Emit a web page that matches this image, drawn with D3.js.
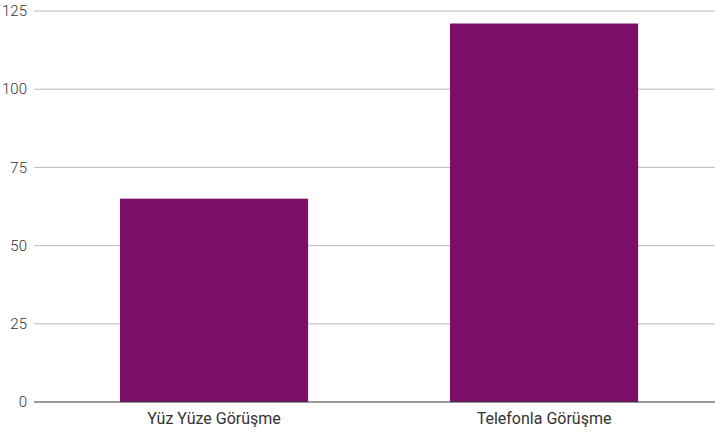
<!DOCTYPE html>
<html><head><meta charset="utf-8">
<script src="https://cdn.jsdelivr.net/npm/d3@7"></script>
<style>body{margin:0;background:#fff}svg{display:block}</style>
</head><body><svg id="c" width="715" height="432"></svg>
<script>
const categories = ["Yüz Yüze Görüşme", "Telefonla Görüşme"];
const values = [65, 121];
const yTicks = [0, 25, 50, 75, 100, 125];

const svg = d3.select("#c");
const x = d3.scaleBand().domain(categories).range([34, 715]).paddingInner(0.43).paddingOuter(0.2468).align(0.528);
const y = d3.scaleLinear().domain([0, 125]).range([402, 11]);

svg.append("g").selectAll("line").data(yTicks.filter(d => d !== 0)).join("line")
  .attr("x1", 34).attr("x2", 715)
  .attr("y1", d => y(d)).attr("y2", d => y(d))
  .attr("stroke", "#bbbbbb").attr("stroke-width", 1);

svg.append("g").selectAll("rect").data(values).join("rect")
  .attr("x", (d, i) => x(categories[i]))
  .attr("width", x.bandwidth())
  .attr("y", d => y(d))
  .attr("height", d => y(0) - y(d))
  .attr("fill", "#7b0f6a");

svg.append("line").attr("x1", 34).attr("x2", 715).attr("y1", y(0)).attr("y2", y(0))
  .attr("stroke", "#333").attr("stroke-width", 1);

svg.append("g").selectAll("text").data(yTicks).join("text")
  .attr("x", 27).attr("y", d => y(d)).attr("dy", "0.35em")
  .attr("text-anchor", "end")
  .attr("font-family", "Roboto, sans-serif").attr("font-size", 15).attr("font-weight", 300)
  .attr("fill", "#333").text(d => d);

svg.append("g").selectAll("text").data(categories).join("text")
  .attr("x", d => x(d) + x.bandwidth() / 2).attr("y", 424)
  .attr("text-anchor", "middle")
  .attr("font-family", "Roboto, sans-serif").attr("font-size", 16).attr("font-weight", 400)
  .attr("fill", "#333").text(d => d);
</script></body></html>
